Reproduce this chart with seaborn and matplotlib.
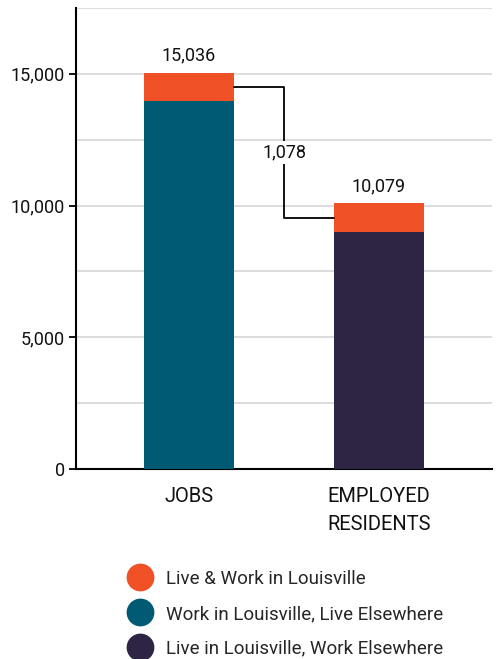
import matplotlib
matplotlib.use("Agg")
import matplotlib.pyplot as plt
import seaborn as sns
import pandas as pd
from matplotlib.lines import Line2D

categories = ["JOBS", "EMPLOYED\nRESIDENTS"]
totals = [15036, 10079]
overlap = 1078  # Live & Work in Louisville
bottoms = [t - overlap for t in totals]
series_names = ["Live & Work in Louisville",
                "Work in Louisville, Live Elsewhere",
                "Live in Louisville, Work Elsewhere"]
colors = ["#F05025", "#005A74", "#2E2545"]
yticks = [0, 5000, 10000, 15000]
ytick_labels = ["0", "5,000", "10,000", "15,000"]

sns.set_theme(style="white")
plt.rcParams["font.family"] = ["Roboto", "DejaVu Sans"]

fig = plt.figure(figsize=(4.97, 6.59), dpi=100)
ax = fig.add_axes([76/497, 1-469/659, (492-76)/497, (469-8)/659])

df = pd.DataFrame({"cat": categories, "total": totals, "bottom": bottoms})
w = 0.474
sns.barplot(data=df, x="cat", y="total", color=colors[0], width=w, ax=ax,
            saturation=1, linewidth=0, zorder=3)
sns.barplot(data=df, x="cat", y="bottom", hue="cat", palette=colors[1:],
            width=w, dodge=False, legend=False, ax=ax, saturation=1,
            linewidth=0, zorder=3)

ax.set_xlim(-0.595, 1.595)
ax.set_ylim(0, 17500)
ax.set_yticks(yticks)
ax.set_yticklabels(ytick_labels)
ax.set_yticks([2500, 7500, 12500, 17500], minor=True)
ax.grid(axis="y", which="both", color="#dddddd", lw=1.4, zorder=0)
ax.set_axisbelow(True)
ax.set_xlabel("")
ax.set_ylabel("")
for s in ["top", "right"]:
    ax.spines[s].set_visible(False)
for s in ["left", "bottom"]:
    ax.spines[s].set_color("black")
    ax.spines[s].set_linewidth(1.5)
ax.tick_params(axis="y", which="major", left=True, length=5, width=1.3,
               color="black", labelsize=13, pad=3, labelcolor="#111111")
ax.tick_params(axis="y", which="minor", left=False)
ax.tick_params(axis="x", bottom=False, labelsize=14.5, pad=7, labelcolor="#111111")
for lbl in ax.get_xticklabels():
    lbl.set_linespacing(1.6)

# total labels
for i, t in enumerate(totals):
    ax.annotate(f"{t:,}", (i, t), xytext=(0, 6), textcoords="offset points",
                ha="center", va="bottom", fontsize=13, color="#111111")

# connector
y1 = bottoms[0] + overlap / 2
y2 = bottoms[1] + overlap / 2
ax.plot([0 + w/2, 0.5, 0.5, 1 - w/2], [y1, y1, y2, y2], color="black",
        lw=1.3, zorder=4)
ax.text(0.5, (y1 + y2) / 2, f"{overlap:,}", ha="center", va="center",
        fontsize=13, color="#111111", zorder=5,
        bbox=dict(facecolor="white", edgecolor="none", pad=2))

handles = [Line2D([0], [0], marker="o", color="none", markerfacecolor=c,
                  markeredgecolor="none", markersize=20) for c in colors]
fig.legend(handles, series_names, loc="upper left",
           bbox_to_anchor=(126/497, 1-570/659), frameon=False,
           fontsize=13.5, labelspacing=0.9, handletextpad=0.64,
           handlelength=1.5, borderaxespad=0, borderpad=0)

fig.savefig("out.png", dpi=100)
